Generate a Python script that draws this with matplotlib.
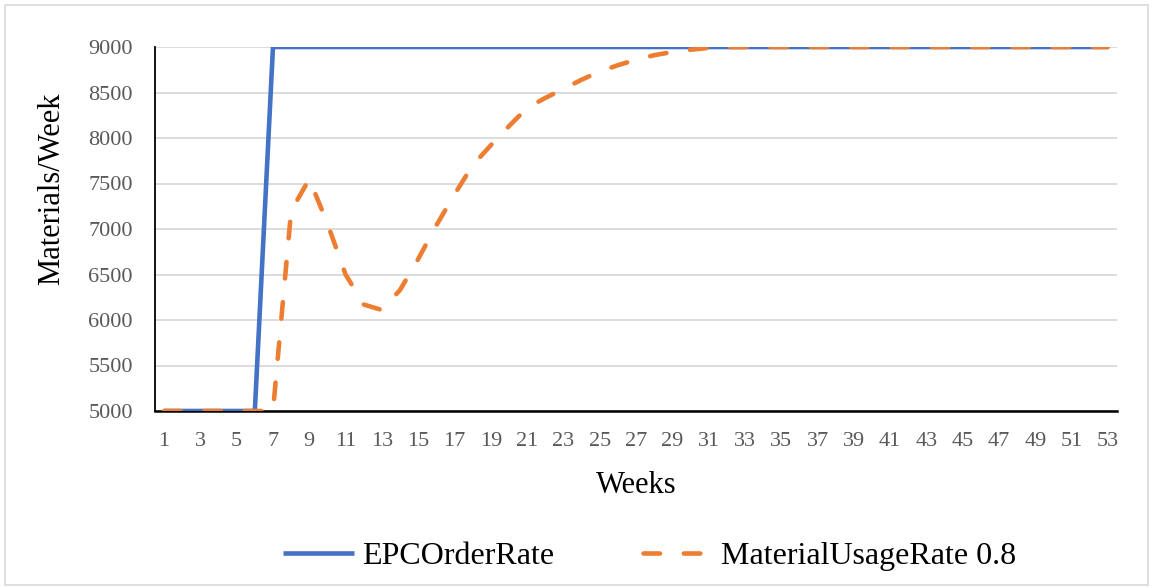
import numpy as np
import matplotlib.pyplot as plt
from matplotlib.patches import Rectangle

# ── Data ──────────────────────────────────────────────────────────────────────
weeks = np.arange(1, 54)
epc_order_rate = [5000] * 6 + [9000] * 47
material_usage = [5000, 5000, 5000, 5000, 5000, 5000, 5000,        # weeks 1-7
                  7200, 7550, 7060, 6500, 6170, 6110, 6330,        # weeks 8-14
                  6670, 7040, 7380, 7700, 7920, 8130, 8330,        # weeks 15-21
                  8440, 8540, 8640, 8730, 8800, 8860, 8910,        # weeks 22-28
                  8945, 8970, 8990, 8998] + [9000] * 21           # weeks 29-53
y_ticks = [5000, 5500, 6000, 6500, 7000, 7500, 8000, 8500, 9000]
x_ticks = list(range(1, 54, 2))

BLUE = '#4472C4'
ORANGE = '#ED7D31'
GREY_TXT = '#595959'

plt.rcParams['font.family'] = ['Liberation Serif', 'DejaVu Serif']

# ── Plot ──────────────────────────────────────────────────────────────────────
fig = plt.figure(figsize=(11.53, 5.88), dpi=100)
ax = fig.add_axes([155 / 1153, 1 - 411 / 588, (1117 - 155) / 1153, (411 - 47) / 588])

ax.plot(weeks, epc_order_rate, color=BLUE, lw=3.3, solid_capstyle='butt',
        label='EPCOrderRate', zorder=3)
ax.plot(weeks, material_usage, color=ORANGE, lw=3.3, dashes=(3.6, 5.2),
        dash_capstyle='round', label='MaterialUsageRate 0.8', zorder=4)

ax.set_xlim(0.5, 53.5)
ax.set_ylim(5000, 9000)
ax.set_xticks(x_ticks)
ax.set_yticks(y_ticks)
ax.tick_params(length=0, labelsize=16, labelcolor=GREY_TXT)
ax.tick_params(axis='x', pad=15)
ax.tick_params(axis='y', pad=16)

ax.grid(axis='y', color='#D9D9D9', lw=1.3, zorder=0)
ax.set_axisbelow(True)
for s in ['top', 'right']:
    ax.spines[s].set_visible(False)
ax.spines['left'].set_color('black')
ax.spines['bottom'].set_color('black')
ax.spines['left'].set_linewidth(1.3)
ax.spines['bottom'].set_linewidth(1.8)

ax.set_xlabel('Weeks', fontsize=22)
ax.set_ylabel('Materials/Week', fontsize=22)
ax.xaxis.set_label_coords(0.5, -0.165)
ax.yaxis.set_label_coords(-0.0925, 0.61)

# ── Legend ────────────────────────────────────────────────────────────────────
fig.legend(loc='center', bbox_to_anchor=(650 / 1153, 1 - 556 / 588), ncol=2,
           frameon=False, fontsize=23, handlelength=2.2, handletextpad=0.25,
           columnspacing=2.8)

# light grey chart border
fig.patches.append(Rectangle((5 / 1153, 3 / 588), 1143 / 1153, 580 / 588,
                             transform=fig.transFigure, fill=False,
                             edgecolor='#D9D9D9', lw=1.2))

plt.savefig('out.png', dpi=100, facecolor='white')
